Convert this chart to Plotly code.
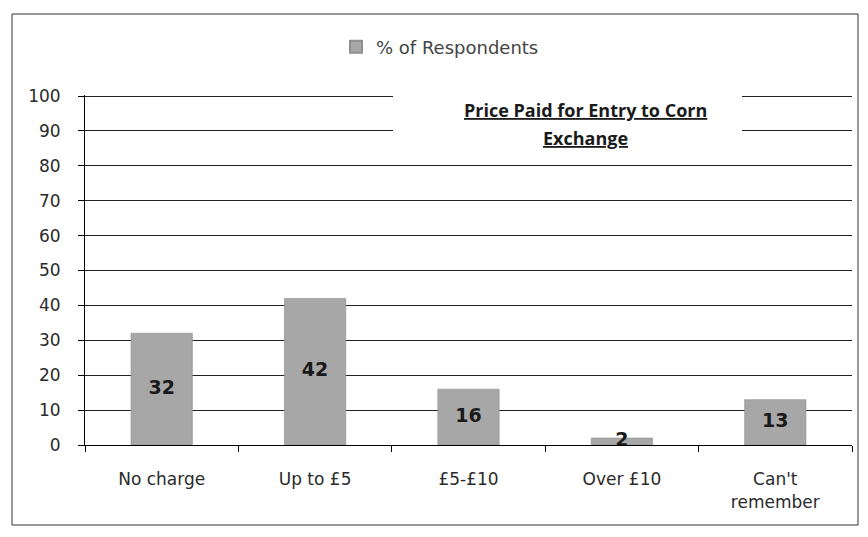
import plotly.graph_objects as go

categories = ["No charge", "Up to £5", "£5-£10", "Over £10", "Can't<br>remember"]
values = [32, 42, 16, 2, 13]
series_name = "% of Respondents"
title_lines = ["Price Paid for Entry to Corn", "Exchange"]
y_ticks = [0, 10, 20, 30, 40, 50, 60, 70, 80, 90, 100]

# page has an 8px body margin: figure coords = target coords - 8
OFF = 8
W, H = 868 - OFF, 537 - OFF
L, T = 85 - OFF, 95 - OFF
R = W - (852 - OFF)
B = H - (445 - OFF)
pw, ph = W - L - R, H - T - B

def px_x(x):
    return (x - OFF - L) / pw

def px_y(y):
    return (H - B - (y - OFF)) / ph

fig = go.Figure()
fig.add_trace(go.Bar(
    x=categories, y=values, name=series_name,
    marker=dict(color="#a7a7a7", line=dict(color="#8f8f8f", width=0.6)),
    showlegend=True,
))
fig.add_trace(go.Scatter(
    x=categories, y=[v / 2 for v in values], mode="text",
    text=[str(v) for v in values],
    textfont=dict(family="DejaVu Sans", size=19, color="#1a1a1a", weight="bold"),
    showlegend=False, hoverinfo="skip",
))

fig.update_layout(
    width=W, height=H,
    margin=dict(l=L, r=R, t=T, b=B),
    paper_bgcolor="white", plot_bgcolor="white",
    bargap=0.6,
    font=dict(family="DejaVu Sans", color="#333333", size=17),
    legend=dict(orientation="h", x=px_x(440), y=px_y(47), xanchor="center", yanchor="middle",
                font=dict(size=18, color="#444444"), itemsizing="constant", itemwidth=30),
    xaxis=dict(
        type="category", showline=True, linecolor="black", linewidth=1,
        ticks="outside", tickson="boundaries", ticklen=6, tickcolor="black",
        showgrid=False, ticklabelstandoff=19, tickfont=dict(size=17, color="#2a2a2a"),
    ),
    yaxis=dict(
        range=[0, 100.3], tickvals=y_ticks, showline=True, linecolor="black", linewidth=1,
        ticks="outside", ticklen=6, tickcolor="black",
        showgrid=True, gridcolor="#222222", gridwidth=1, zeroline=False,
        ticklabelstandoff=14, tickfont=dict(size=17, color="#2a2a2a"),
    ),
    shapes=[
        dict(type="rect", xref="paper", yref="paper",
             x0=px_x(12), x1=px_x(858), y0=px_y(525), y1=px_y(14),
             line=dict(color="#333333", width=1), fillcolor="rgba(0,0,0,0)", layer="below"),
        dict(type="rect", xref="paper", yref="paper",
             x0=px_x(393), x1=px_x(742), y0=px_y(152), y1=px_y(89),
             line=dict(width=0), fillcolor="white", layer="above"),
    ],
    annotations=[
        dict(xref="paper", yref="paper", x=px_x(585), y=px_y(110), xanchor="center", yanchor="middle",
             text="<u>" + title_lines[0] + "</u>", showarrow=False,
             font=dict(family="Open Sans", size=18, color="#1a1a1a", weight="bold")),
        dict(xref="paper", yref="paper", x=px_x(585), y=px_y(138), xanchor="center", yanchor="middle",
             text="<u>" + title_lines[1] + "</u>", showarrow=False,
             font=dict(family="Open Sans", size=18, color="#1a1a1a", weight="bold")),
    ],
)

fig.write_html("out.html")
